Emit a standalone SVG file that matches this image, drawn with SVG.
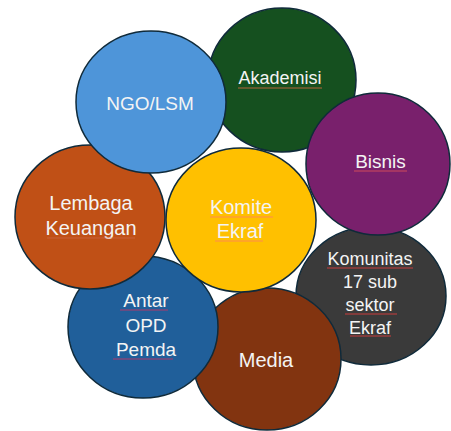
<svg xmlns="http://www.w3.org/2000/svg" width="451" height="431" viewBox="0 0 451 431">
<style>
.c{stroke:#0f2a3a;stroke-width:1.5}
.t{font-family:"Liberation Sans",Arial,sans-serif;font-size:19px;fill:#f4f4f4;text-anchor:middle}
.u{stroke-width:1;fill:none}
</style>
<rect width="451" height="431" fill="#ffffff"/>
<g id="komunitas">
<ellipse class="c" cx="371" cy="296" rx="75" ry="69" fill="#3a3a3a"/>
<text class="t" x="370" y="265" style="font-size:18px">Komunitas</text>
<text class="t" x="370" y="288" style="font-size:18px">17 sub</text>
<text class="t" x="370" y="311" style="font-size:18px">sektor</text>
<text class="t" x="370" y="334" style="font-size:18px">Ekraf</text>
<line class="u" x1="327" y1="268" x2="413" y2="268" stroke="#c83c3c"/>
<line class="u" x1="345" y1="314" x2="397" y2="314" stroke="#c83c3c"/>
<line class="u" x1="350" y1="336" x2="391" y2="336" stroke="#c83c3c"/>
</g>
<g id="akademisi">
<ellipse class="c" cx="282" cy="80" rx="74" ry="72" fill="#15501f"/>
<text class="t" x="280" y="84" style="font-size:18px">Akademisi</text>
<line class="u" x1="238" y1="88" x2="322" y2="88" stroke="#b5653a"/>
</g>
<g id="bisnis">
<ellipse class="c" cx="378" cy="164" rx="72" ry="71" fill="#79206c"/>
<text class="t" x="380.5" y="168">Bisnis</text>
<line class="u" x1="354" y1="171" x2="407" y2="171" stroke="#d04a5a"/>
</g>
<g id="media">
<ellipse class="c" cx="267" cy="359" rx="74" ry="71" fill="#823410"/>
<text class="t" x="266" y="367" style="font-size:20px">Media</text>
</g>
<g id="antar-opd">
<ellipse class="c" cx="143" cy="327" rx="75" ry="71" fill="#205f9a"/>
<text class="t" x="146" y="307">Antar</text>
<text class="t" x="146" y="332">OPD</text>
<text class="t" x="146" y="356">Pemda</text>
<line class="u" x1="120" y1="310" x2="168" y2="310" stroke="#b03a6a"/>
<line class="u" x1="113" y1="359" x2="173" y2="359" stroke="#b03a6a"/>
</g>
<g id="lembaga-keuangan">
<ellipse class="c" cx="90" cy="217" rx="75" ry="72" fill="#c05016"/>
<text class="t" x="91" y="210" style="font-size:20px">Lembaga</text>
<text class="t" x="91" y="235" style="font-size:20px">Keuangan</text>
<line class="u" x1="47" y1="238" x2="135" y2="238" stroke="#d06a50" stroke-opacity="0.6"/>
</g>
<g id="ngo-lsm">
<ellipse class="c" cx="151" cy="102" rx="75" ry="71" fill="#4e95d9"/>
<text class="t" x="150" y="110">NGO/LSM</text>
</g>
<g id="komite-ekraf">
<ellipse class="c" cx="241" cy="220" rx="75" ry="72" fill="#ffc000"/>
<text class="t" x="241" y="214" style="font-size:20px">Komite</text>
<text class="t" x="240" y="238" style="font-size:20px">Ekraf</text>
<line class="u" x1="210" y1="217" x2="273" y2="217" stroke="#ff8a50"/>
<line class="u" x1="215" y1="241" x2="263" y2="241" stroke="#ff8a50"/>
</g>
<g id="connectors"></g>
</svg>
